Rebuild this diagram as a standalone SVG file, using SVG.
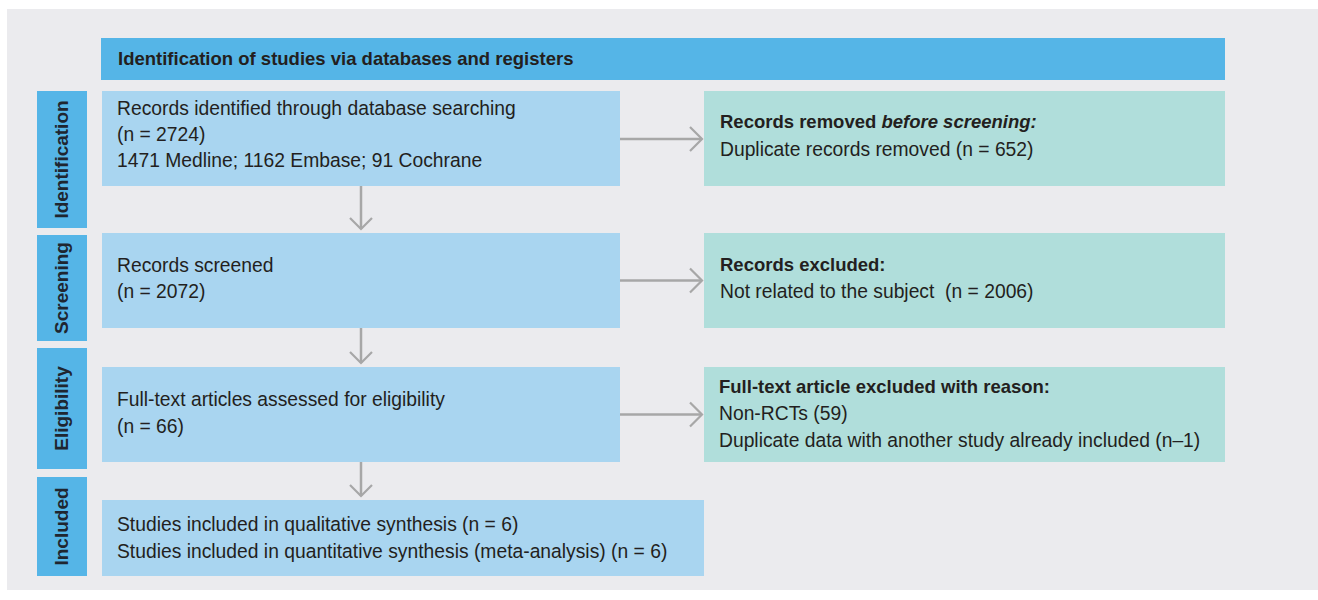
<svg xmlns="http://www.w3.org/2000/svg" width="1318" height="600" viewBox="0 0 1318 600">
  <defs>
    <style>
      .bg { fill: #EBEBEE; }
      .hdr { fill: #55B5E7; }
      .side { fill: #55B5E7; }
      .main { fill: #A9D5F0; }
      .excl { fill: #B0DEDB; }
      .t { font-family: "Liberation Sans", Arial, sans-serif; font-size: 19.3px; fill: #231F20; }
      .b { font-family: "Liberation Sans", Arial, sans-serif; font-size: 18.5px; font-weight: bold; fill: #231F20; }
      .st { font-family: "Liberation Sans", Arial, sans-serif; font-size: 19px; font-weight: bold; fill: #1F2630; text-anchor: middle; }
      .conn { stroke: #A7A7A7; stroke-width: 2.5; fill: none; }
      .head { stroke: #A7A7A7; stroke-width: 2.2; fill: none; stroke-linecap: butt; stroke-linejoin: miter; }
    </style>
  </defs>

  <rect class="bg" x="7" y="9" width="1311" height="581"/>

  <g id="header">
    <rect class="hdr" x="101" y="38" width="1124" height="42"/>
    <text class="b" x="118" y="65">Identification of studies via databases and registers</text>
  </g>

  <g id="stage-identification">
    <rect class="side" x="37" y="91" width="50" height="137"/>
    <text class="st" transform="translate(68,159.5) rotate(-90)">Identification</text>
  </g>
  <g id="stage-screening">
    <rect class="side" x="37" y="235" width="50" height="106"/>
    <text class="st" transform="translate(68,288) rotate(-90)">Screening</text>
  </g>
  <g id="stage-eligibility">
    <rect class="side" x="37" y="348" width="50" height="121"/>
    <text class="st" transform="translate(68,408.5) rotate(-90)">Eligibility</text>
  </g>
  <g id="stage-included">
    <rect class="side" x="37" y="477" width="50" height="99"/>
    <text class="st" transform="translate(68,526.5) rotate(-90)">Included</text>
  </g>

  <g id="records-identified">
    <rect class="main" x="102" y="91" width="518" height="95"/>
    <text class="t" x="117" y="115">Records identified through database searching</text>
    <text class="t" x="117" y="141">(n = 2724)</text>
    <text class="t" x="117" y="167">1471 Medline; 1162 Embase; 91 Cochrane</text>
  </g>

  <g id="records-removed">
    <rect class="excl" x="704" y="91" width="521" height="95"/>
    <text class="b" x="720" y="128">Records removed <tspan font-style="italic">before screening:</tspan></text>
    <text class="t" x="720" y="156">Duplicate records removed (n = 652)</text>
  </g>

  <g id="records-screened">
    <rect class="main" x="102" y="233" width="518" height="95"/>
    <text class="t" x="117" y="272">Records screened</text>
    <text class="t" x="117" y="298">(n = 2072)</text>
  </g>

  <g id="records-excluded">
    <rect class="excl" x="704" y="233" width="521" height="95"/>
    <text class="b" x="720" y="271">Records excluded:</text>
    <text class="t" x="720" y="298" xml:space="preserve">Not related to the subject  (n = 2006)</text>
  </g>

  <g id="fulltext-assessed">
    <rect class="main" x="102" y="367" width="518" height="95"/>
    <text class="t" x="117" y="406">Full-text articles assessed for eligibility</text>
    <text class="t" x="117" y="433">(n = 66)</text>
  </g>

  <g id="fulltext-excluded">
    <rect class="excl" x="704" y="367" width="521" height="95"/>
    <text class="b" x="719" y="393">Full-text article excluded with reason:</text>
    <text class="t" x="719" y="420">Non-RCTs (59)</text>
    <text class="t" x="719" y="447">Duplicate data with another study already included (n–1)</text>
  </g>

  <g id="studies-included">
    <rect class="main" x="102" y="500" width="602" height="76"/>
    <text class="t" x="117" y="531">Studies included in qualitative synthesis (n = 6)</text>
    <text class="t" x="117" y="558">Studies included in quantitative synthesis (meta-analysis) (n = 6)</text>
  </g>

  <g id="connectors">
    <line class="conn" x1="620" y1="139" x2="701" y2="139"/>
    <polyline class="head" points="690,127 702,139 690,151"/>
    <line class="conn" x1="620" y1="280.5" x2="701" y2="280.5"/>
    <polyline class="head" points="690,268.5 702,280.5 690,292.5"/>
    <line class="conn" x1="620" y1="414.5" x2="701" y2="414.5"/>
    <polyline class="head" points="690,402.5 702,414.5 690,426.5"/>

    <line class="conn" x1="361" y1="186" x2="361" y2="229"/>
    <polyline class="head" points="350,218 361,229 372,218"/>
    <line class="conn" x1="361" y1="328" x2="361" y2="363"/>
    <polyline class="head" points="350,352 361,363 372,352"/>
    <line class="conn" x1="361" y1="462" x2="361" y2="496"/>
    <polyline class="head" points="350,485 361,496 372,485"/>
  </g>
</svg>
